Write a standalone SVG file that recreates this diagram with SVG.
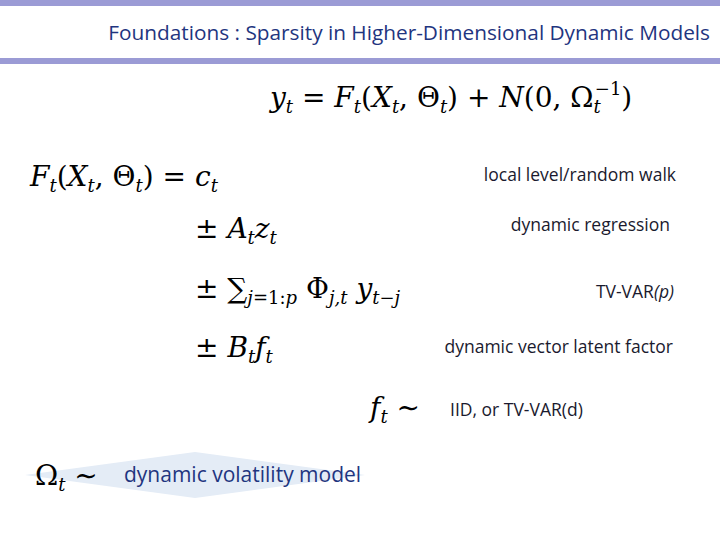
<svg xmlns="http://www.w3.org/2000/svg" width="720" height="540" viewBox="0 0 720 540">
<style>
.m{font-family:"DejaVu Serif","Liberation Serif",serif;font-size:28px;fill:#000}
.i{font-style:italic}
.s{font-size:18px}
.l{font-family:"Open Sans","Liberation Sans",sans-serif;font-size:17.5px;fill:#1a1a2e}
.b{font-family:"Open Sans","Liberation Sans",sans-serif;fill:#1f3580}
</style>
<rect width="720" height="540" fill="#fff"/>
<rect x="0" y="0" width="720" height="6" fill="#9b9bd5"/>
<rect x="0" y="58" width="720" height="6" fill="#9b9bd5"/>
<text x="710" y="40" text-anchor="end" class="b" font-size="20.8">Foundations : Sparsity in Higher-Dimensional Dynamic Models</text>
<polygon points="25,475 195,452 365,475 195,498" fill="#e4ecf6"/>
<text class="m" x="270" y="107"><tspan class="i">y</tspan><tspan class="i s" dy="6">t</tspan><tspan dy="-6"> = </tspan><tspan class="i">F</tspan><tspan class="i s" dy="6">t</tspan><tspan dy="-6">(</tspan><tspan class="i">X</tspan><tspan class="i s" dy="6">t</tspan><tspan dy="-6">, Θ</tspan><tspan class="i s" dy="6">t</tspan><tspan dy="-6">) + </tspan><tspan class="i">N</tspan><tspan>(0, Ω</tspan><tspan class="i s" dy="6">t</tspan><tspan class="s" dx="-6" dy="-18">−1</tspan><tspan dy="12">)</tspan></text>
<text class="m" x="30" y="186"><tspan class="i">F</tspan><tspan class="i s" dy="6">t</tspan><tspan dy="-6">(</tspan><tspan class="i">X</tspan><tspan class="i s" dy="6">t</tspan><tspan dy="-6">, Θ</tspan><tspan class="i s" dy="6">t</tspan><tspan dy="-6">) =   </tspan><tspan class="i">c</tspan><tspan class="i s" dy="6">t</tspan></text>
<text class="m" x="195" y="238">± <tspan class="i">A</tspan><tspan class="i s" dy="6">t</tspan><tspan class="i" dy="-6">z</tspan><tspan class="i s" dy="6">t</tspan></text>
<text class="m" x="195" y="298">± ∑<tspan class="s" dy="6"><tspan class="i">j</tspan>=1:<tspan class="i">p</tspan></tspan><tspan dy="-6"> Φ</tspan><tspan class="s i" dy="6">j,t</tspan><tspan class="i" dy="-6"> y</tspan><tspan class="i s" dy="6">t−j</tspan></text>
<text class="m" x="195" y="357">± <tspan class="i">B</tspan><tspan class="i s" dy="6">t</tspan><tspan class="i" dy="-6">f</tspan><tspan class="i s" dy="6">t</tspan></text>
<text class="m" x="370" y="417"><tspan class="i">f</tspan><tspan class="i s" dy="6">t</tspan><tspan dy="-6"> ∼</tspan></text>
<text class="m" x="35" y="485">Ω<tspan class="i s" dy="6">t</tspan><tspan dy="-6"> ∼</tspan></text>
<text class="l" x="676" y="181" text-anchor="end">local level/random walk</text>
<text class="l" x="670" y="231" text-anchor="end">dynamic regression</text>
<text class="l" x="674" y="298" text-anchor="end">TV-VAR<tspan font-style="italic">(p)</tspan></text>
<text class="l" x="673" y="353" text-anchor="end">dynamic vector latent factor</text>
<text class="l" x="450" y="416">IID, or TV-VAR(d)</text>
<text class="b" x="124" y="482" font-size="21">dynamic volatility model</text>
</svg>
